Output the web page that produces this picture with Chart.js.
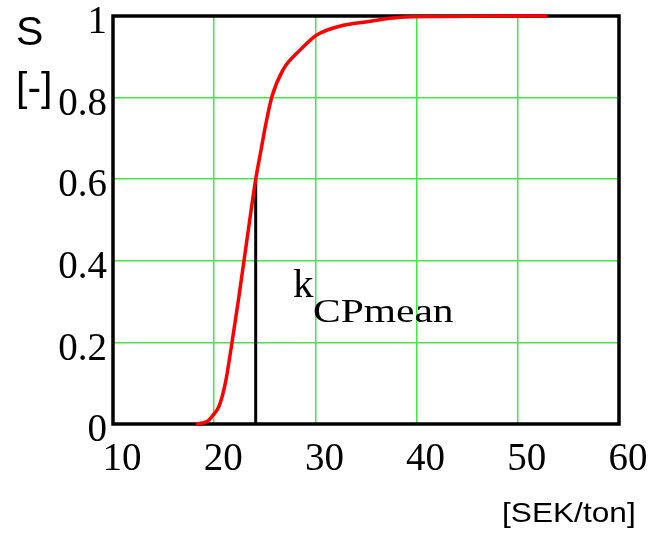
<!DOCTYPE html>
<html>
<head>
<meta charset="utf-8">
<script src="https://cdn.jsdelivr.net/npm/chart.js@4/dist/chart.umd.min.js"></script>
<style>
  html, body { margin: 0; padding: 0; background: #fff; }
  #wrap { width: 652px; height: 534px; position: relative; }
</style>
</head>
<body>
<div id="wrap"><canvas id="cdfChart"></canvas></div>
<script>
// cumulative share S [-] against cost [SEK/ton]
const costX = [18.2, 19.3, 19.9, 20.5, 21.1, 21.7, 22.4, 23.0, 23.7, 24.1, 24.6, 25.1, 25.7, 26.8, 28.5, 30.1, 32.4, 35.1, 38.4, 42.0, 52.9];
const shareS = [0.0, 0.006, 0.022, 0.045, 0.10, 0.19, 0.305, 0.41, 0.533, 0.60, 0.668, 0.735, 0.802, 0.868, 0.917, 0.953, 0.975, 0.986, 0.997, 0.999, 1.0];

// mean cost marker
const kMeanX = [24.1, 24.1];
const kMeanS = [0, 0.6];

const xTicks = [10, 20, 30, 40, 50, 60];
const yTicks = [0, 0.2, 0.4, 0.6, 0.8, 1];
const yTickLabels = ['0', '0.2', '0.4', '0.6', '0.8', '1'];

const toPoints = (xs, ys) => xs.map((x, i) => ({ x: x, y: ys[i] }));

const gridGreen = '#44e844';

const frameAndText = {
    id: 'frameAndText',
    beforeDatasetsDraw(chart) {
        const { ctx, chartArea } = chart;
        ctx.save();
        ctx.strokeStyle = '#000';
        ctx.lineWidth = 3.5;
        ctx.strokeRect(chartArea.left, chartArea.top, chartArea.right - chartArea.left, chartArea.bottom - chartArea.top);
        ctx.restore();
    },
    afterDraw(chart) {
        const ctx = chart.ctx;
        ctx.save();
        ctx.fillStyle = '#000';
        ctx.textBaseline = 'alphabetic';
        ctx.textAlign = 'left';

        ctx.font = '41px "Liberation Sans"';
        ctx.fillText('S', 16, 45);
        ctx.fillText('[-]', 16, 101);

        ctx.save();
        ctx.font = '28px "Liberation Sans"';
        ctx.translate(502, 522);
        ctx.scale(1.13, 1);
        ctx.fillText('[SEK/ton]', 0, 0);
        ctx.restore();

        ctx.font = '41px "Liberation Serif"';
        ctx.fillText('k', 293, 297);
        ctx.save();
        ctx.font = '34px "Liberation Serif"';
        ctx.translate(313, 322);
        ctx.scale(1.22, 1);
        ctx.fillText('CPmean', 0, 0);
        ctx.restore();

        ctx.restore();
    }
};

function noPad(scale) {
    scale.paddingTop = 0;
    scale.paddingBottom = 0;
    scale.paddingLeft = 0;
    scale.paddingRight = 0;
}

const ctx = document.getElementById('cdfChart');
new Chart(ctx.getContext('2d'), {
    type: 'line',
    data: {
        datasets: [{
            label: 'S',
            data: toPoints(costX, shareS),
            borderColor: '#ff0000',
            borderWidth: 3.5,
            pointRadius: 0,
            cubicInterpolationMode: 'monotone',
            clip: 6
        }, {
            label: 'kCPmean',
            data: toPoints(kMeanX, kMeanS),
            borderColor: '#000000',
            borderWidth: 3,
            pointRadius: 0,
            clip: 6
        }]
    },
    options: {
        responsive: true,
        maintainAspectRatio: false,
        animation: false,
        layout: { padding: { top: 16, right: 33, left: 0, bottom: 0 } },
        plugins: {
            legend: { display: false },
            tooltip: { enabled: false }
        },
        scales: {
            x: {
                type: 'linear',
                min: xTicks[0],
                max: xTicks[xTicks.length - 1],
                afterBuildTicks: (scale) => { scale.ticks = xTicks.map(v => ({ value: v })); },
                afterFit: (scale) => { scale.height = 110; noPad(scale); },
                border: { display: false },
                grid: { color: gridGreen, lineWidth: 1.5, drawTicks: false },
                ticks: {
                    color: '#000',
                    padding: 12,
                    labelOffset: 9,
                    maxRotation: 0,
                    font: { family: 'Liberation Serif', size: 39 }
                }
            },
            y: {
                min: yTicks[0],
                max: yTicks[yTicks.length - 1],
                afterBuildTicks: (scale) => { scale.ticks = yTicks.map(v => ({ value: v })); },
                afterFit: (scale) => { scale.width = 113; noPad(scale); },
                border: { display: false },
                grid: { color: gridGreen, lineWidth: 1.5, drawTicks: false },
                ticks: {
                    color: '#000',
                    padding: 6,
                    labelOffset: 7,
                    font: { family: 'Liberation Serif', size: 39 },
                    callback: (value) => yTickLabels[yTicks.indexOf(value)] ?? String(value)
                }
            }
        }
    },
    plugins: [frameAndText]
});
</script>
</body>
</html>
